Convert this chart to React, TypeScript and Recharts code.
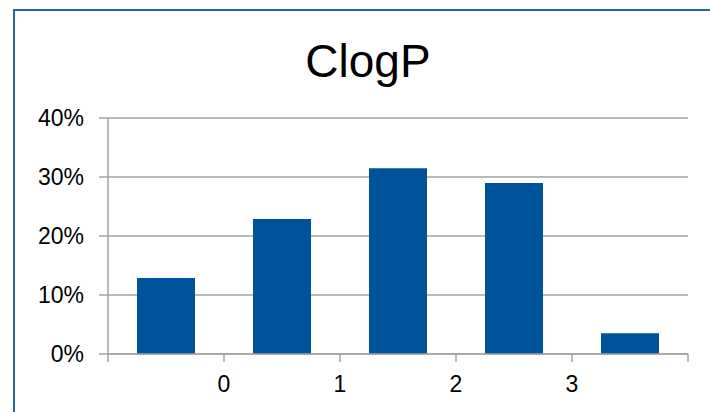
import { BarChart, Bar, XAxis, YAxis, CartesianGrid } from "recharts";

// bin centers on the ClogP axis, share of compounds in each bin
const binCenters = [-0.5, 0.5, 1.5, 2.5, 3.5];
const shares = [0.129, 0.229, 0.315, 0.29, 0.035];
const xTicks = [-1, 0, 1, 2, 3, 4];
const xLabels = ["", "0", "1", "2", "3", ""];
const yTicks = [0, 0.1, 0.2, 0.3, 0.4];
const title = "ClogP";

const FONT = "'Liberation Sans', Arial, sans-serif";
const GRAY = "#A3A3A3";

export default function App() {
  const data = binCenters.map((x, i) => ({ x, share: shares[i] }));

  return (
    <div
      style={{
        position: "absolute",
        left: 0,
        top: 0,
        width: 710,
        height: 412,
        overflow: "hidden",
        background: "#fff",
        fontFamily: FONT,
      }}
    >
      <div
        style={{
          position: "absolute",
          left: 13,
          top: 9,
          width: 730,
          height: 430,
          border: "2px solid #2566B4",
        }}
      />
      <div
        style={{
          position: "absolute",
          left: 0,
          top: 38,
          width: 736,
          textAlign: "center",
          fontSize: 46,
          lineHeight: "46px",
          color: "#000",
        }}
      >
        {title}
      </div>
      <div style={{ position: "absolute", left: 0, top: 0 }}>
        <BarChart
          width={710}
          height={412}
          data={data}
          margin={{ top: 118, right: 22, bottom: 18, left: 0 }}
        >
          <CartesianGrid vertical={false} stroke={GRAY} strokeWidth={1.5} />
          <XAxis
            dataKey="x"
            type="number"
            domain={[-1, 4]}
            ticks={xTicks}
            allowDataOverflow
            height={40}
            tickFormatter={(v: number) => xLabels[xTicks.indexOf(v)] ?? ""}
            tick={{ fontSize: 23, fill: "#000", fontFamily: FONT }}
            axisLine={{ stroke: GRAY, strokeWidth: 1.5 }}
            tickLine={{ stroke: GRAY, strokeWidth: 1.5 }}
            tickSize={8}
            tickMargin={14}
            interval={0}
          />
          <YAxis
            type="number"
            domain={[0, 0.4]}
            ticks={yTicks}
            width={108}
            tickFormatter={(v: number) => `${Math.round(v * 100)}%`}
            tick={{ fontSize: 23, fill: "#000", fontFamily: FONT }}
            axisLine={{ stroke: GRAY, strokeWidth: 1.5 }}
            tickLine={{ stroke: GRAY, strokeWidth: 1.5 }}
            tickSize={9}
            tickMargin={15}
            interval={0}
          />
          <Bar dataKey="share" fill="#00539B" barSize={58} isAnimationActive={false} />
        </BarChart>
      </div>
    </div>
  );
}
